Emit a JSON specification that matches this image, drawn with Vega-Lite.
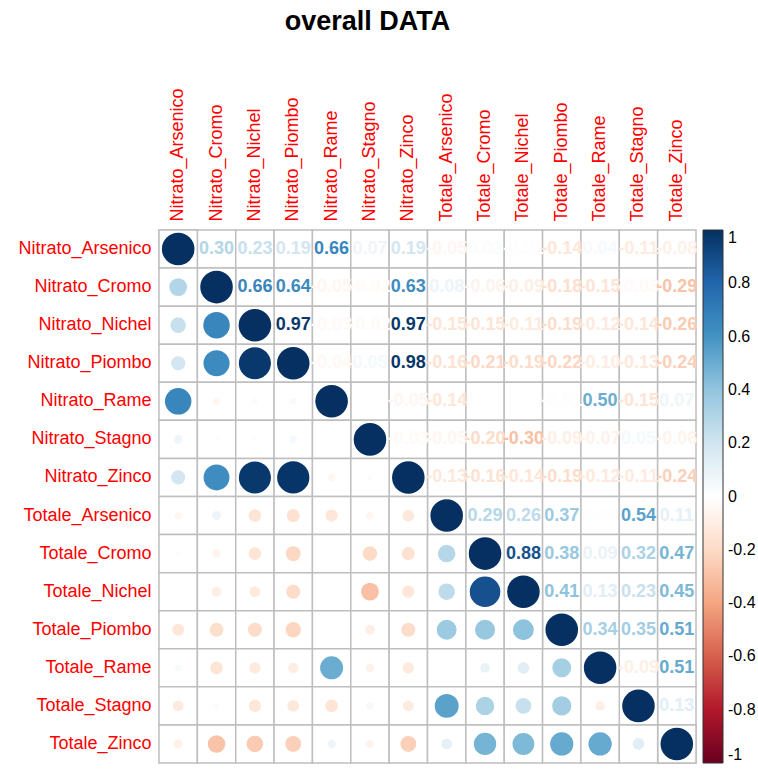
{
  "$schema": "https://vega.github.io/schema/vega-lite/v6.json",
  "width": 537,
  "height": 533,
  "autosize": "none",
  "padding": {"left": 159, "top": 230, "right": 62, "bottom": 9},
  "title": {"text": "overall DATA", "font": "Liberation Sans", "fontSize": 27, "fontWeight": "bold", "color": "#000000", "anchor": "middle", "frame": "group", "dx": -60, "offset": 52},
  "config": {
    "locale": {"number": {"decimal": ".", "thousands": ",", "grouping": [3], "currency": ["$", ""], "minus": "-"}},
    "view": {"stroke": null},
    "font": "Liberation Sans"
  },
  "data": {"values": [
    {"a": "Nitrato_Arsenico", "b": "Nitrato_Arsenico", "r": 1},
    {"a": "Nitrato_Cromo", "b": "Nitrato_Cromo", "r": 1},
    {"a": "Nitrato_Nichel", "b": "Nitrato_Nichel", "r": 1},
    {"a": "Nitrato_Piombo", "b": "Nitrato_Piombo", "r": 1},
    {"a": "Nitrato_Rame", "b": "Nitrato_Rame", "r": 1},
    {"a": "Nitrato_Stagno", "b": "Nitrato_Stagno", "r": 1},
    {"a": "Nitrato_Zinco", "b": "Nitrato_Zinco", "r": 1},
    {"a": "Totale_Arsenico", "b": "Totale_Arsenico", "r": 1},
    {"a": "Totale_Cromo", "b": "Totale_Cromo", "r": 1},
    {"a": "Totale_Nichel", "b": "Totale_Nichel", "r": 1},
    {"a": "Totale_Piombo", "b": "Totale_Piombo", "r": 1},
    {"a": "Totale_Rame", "b": "Totale_Rame", "r": 1},
    {"a": "Totale_Stagno", "b": "Totale_Stagno", "r": 1},
    {"a": "Totale_Zinco", "b": "Totale_Zinco", "r": 1},

    {"a": "Nitrato_Arsenico", "b": "Nitrato_Cromo", "r": 0.30},
    {"a": "Nitrato_Arsenico", "b": "Nitrato_Nichel", "r": 0.23},
    {"a": "Nitrato_Arsenico", "b": "Nitrato_Piombo", "r": 0.19},
    {"a": "Nitrato_Arsenico", "b": "Nitrato_Rame", "r": 0.66},
    {"a": "Nitrato_Arsenico", "b": "Nitrato_Stagno", "r": 0.07},
    {"a": "Nitrato_Arsenico", "b": "Nitrato_Zinco", "r": 0.19},
    {"a": "Nitrato_Arsenico", "b": "Totale_Arsenico", "r": -0.05},
    {"a": "Nitrato_Arsenico", "b": "Totale_Cromo", "r": 0.02},
    {"a": "Nitrato_Arsenico", "b": "Totale_Nichel", "r": -0.01},
    {"a": "Nitrato_Arsenico", "b": "Totale_Piombo", "r": -0.14},
    {"a": "Nitrato_Arsenico", "b": "Totale_Rame", "r": 0.04},
    {"a": "Nitrato_Arsenico", "b": "Totale_Stagno", "r": -0.11},
    {"a": "Nitrato_Arsenico", "b": "Totale_Zinco", "r": -0.08},

    {"a": "Nitrato_Cromo", "b": "Nitrato_Nichel", "r": 0.66},
    {"a": "Nitrato_Cromo", "b": "Nitrato_Piombo", "r": 0.64},
    {"a": "Nitrato_Cromo", "b": "Nitrato_Rame", "r": -0.05},
    {"a": "Nitrato_Cromo", "b": "Nitrato_Stagno", "r": -0.02},
    {"a": "Nitrato_Cromo", "b": "Nitrato_Zinco", "r": 0.63},
    {"a": "Nitrato_Cromo", "b": "Totale_Arsenico", "r": 0.08},
    {"a": "Nitrato_Cromo", "b": "Totale_Cromo", "r": -0.06},
    {"a": "Nitrato_Cromo", "b": "Totale_Nichel", "r": -0.09},
    {"a": "Nitrato_Cromo", "b": "Totale_Piombo", "r": -0.18},
    {"a": "Nitrato_Cromo", "b": "Totale_Rame", "r": -0.15},
    {"a": "Nitrato_Cromo", "b": "Totale_Stagno", "r": -0.03},
    {"a": "Nitrato_Cromo", "b": "Totale_Zinco", "r": -0.29},

    {"a": "Nitrato_Nichel", "b": "Nitrato_Piombo", "r": 0.97},
    {"a": "Nitrato_Nichel", "b": "Nitrato_Rame", "r": -0.03},
    {"a": "Nitrato_Nichel", "b": "Nitrato_Stagno", "r": -0.02},
    {"a": "Nitrato_Nichel", "b": "Nitrato_Zinco", "r": 0.97},
    {"a": "Nitrato_Nichel", "b": "Totale_Arsenico", "r": -0.15},
    {"a": "Nitrato_Nichel", "b": "Totale_Cromo", "r": -0.15},
    {"a": "Nitrato_Nichel", "b": "Totale_Nichel", "r": -0.11},
    {"a": "Nitrato_Nichel", "b": "Totale_Piombo", "r": -0.19},
    {"a": "Nitrato_Nichel", "b": "Totale_Rame", "r": -0.12},
    {"a": "Nitrato_Nichel", "b": "Totale_Stagno", "r": -0.14},
    {"a": "Nitrato_Nichel", "b": "Totale_Zinco", "r": -0.26},

    {"a": "Nitrato_Piombo", "b": "Nitrato_Rame", "r": -0.04},
    {"a": "Nitrato_Piombo", "b": "Nitrato_Stagno", "r": 0.05},
    {"a": "Nitrato_Piombo", "b": "Nitrato_Zinco", "r": 0.98},
    {"a": "Nitrato_Piombo", "b": "Totale_Arsenico", "r": -0.16},
    {"a": "Nitrato_Piombo", "b": "Totale_Cromo", "r": -0.21},
    {"a": "Nitrato_Piombo", "b": "Totale_Nichel", "r": -0.19},
    {"a": "Nitrato_Piombo", "b": "Totale_Piombo", "r": -0.22},
    {"a": "Nitrato_Piombo", "b": "Totale_Rame", "r": -0.10},
    {"a": "Nitrato_Piombo", "b": "Totale_Stagno", "r": -0.13},
    {"a": "Nitrato_Piombo", "b": "Totale_Zinco", "r": -0.24},

    {"a": "Nitrato_Rame", "b": "Nitrato_Stagno", "r": 0.00},
    {"a": "Nitrato_Rame", "b": "Nitrato_Zinco", "r": -0.05},
    {"a": "Nitrato_Rame", "b": "Totale_Arsenico", "r": -0.14},
    {"a": "Nitrato_Rame", "b": "Totale_Cromo", "r": 0.00},
    {"a": "Nitrato_Rame", "b": "Totale_Nichel", "r": 0.00},
    {"a": "Nitrato_Rame", "b": "Totale_Piombo", "r": -0.01},
    {"a": "Nitrato_Rame", "b": "Totale_Rame", "r": 0.50},
    {"a": "Nitrato_Rame", "b": "Totale_Stagno", "r": -0.15},
    {"a": "Nitrato_Rame", "b": "Totale_Zinco", "r": 0.07},

    {"a": "Nitrato_Stagno", "b": "Nitrato_Zinco", "r": -0.03},
    {"a": "Nitrato_Stagno", "b": "Totale_Arsenico", "r": -0.05},
    {"a": "Nitrato_Stagno", "b": "Totale_Cromo", "r": -0.20},
    {"a": "Nitrato_Stagno", "b": "Totale_Nichel", "r": -0.30},
    {"a": "Nitrato_Stagno", "b": "Totale_Piombo", "r": -0.09},
    {"a": "Nitrato_Stagno", "b": "Totale_Rame", "r": -0.07},
    {"a": "Nitrato_Stagno", "b": "Totale_Stagno", "r": 0.05},
    {"a": "Nitrato_Stagno", "b": "Totale_Zinco", "r": -0.06},

    {"a": "Nitrato_Zinco", "b": "Totale_Arsenico", "r": -0.13},
    {"a": "Nitrato_Zinco", "b": "Totale_Cromo", "r": -0.16},
    {"a": "Nitrato_Zinco", "b": "Totale_Nichel", "r": -0.14},
    {"a": "Nitrato_Zinco", "b": "Totale_Piombo", "r": -0.19},
    {"a": "Nitrato_Zinco", "b": "Totale_Rame", "r": -0.12},
    {"a": "Nitrato_Zinco", "b": "Totale_Stagno", "r": -0.11},
    {"a": "Nitrato_Zinco", "b": "Totale_Zinco", "r": -0.24},

    {"a": "Totale_Arsenico", "b": "Totale_Cromo", "r": 0.29},
    {"a": "Totale_Arsenico", "b": "Totale_Nichel", "r": 0.26},
    {"a": "Totale_Arsenico", "b": "Totale_Piombo", "r": 0.37},
    {"a": "Totale_Arsenico", "b": "Totale_Rame", "r": 0.01},
    {"a": "Totale_Arsenico", "b": "Totale_Stagno", "r": 0.54},
    {"a": "Totale_Arsenico", "b": "Totale_Zinco", "r": 0.11},

    {"a": "Totale_Cromo", "b": "Totale_Nichel", "r": 0.88},
    {"a": "Totale_Cromo", "b": "Totale_Piombo", "r": 0.38},
    {"a": "Totale_Cromo", "b": "Totale_Rame", "r": 0.09},
    {"a": "Totale_Cromo", "b": "Totale_Stagno", "r": 0.32},
    {"a": "Totale_Cromo", "b": "Totale_Zinco", "r": 0.47},

    {"a": "Totale_Nichel", "b": "Totale_Piombo", "r": 0.41},
    {"a": "Totale_Nichel", "b": "Totale_Rame", "r": 0.13},
    {"a": "Totale_Nichel", "b": "Totale_Stagno", "r": 0.23},
    {"a": "Totale_Nichel", "b": "Totale_Zinco", "r": 0.45},

    {"a": "Totale_Piombo", "b": "Totale_Rame", "r": 0.34},
    {"a": "Totale_Piombo", "b": "Totale_Stagno", "r": 0.35},
    {"a": "Totale_Piombo", "b": "Totale_Zinco", "r": 0.51},

    {"a": "Totale_Rame", "b": "Totale_Stagno", "r": -0.09},
    {"a": "Totale_Rame", "b": "Totale_Zinco", "r": 0.51},

    {"a": "Totale_Stagno", "b": "Totale_Zinco", "r": 0.13}
  ]},
  "layer": [
    {
      "mark": {"type": "rect", "fill": "#ffffff", "stroke": "#bebebe", "strokeWidth": 1.5},
      "encoding": {
        "x": {"field": "b", "type": "nominal", "title": null},
        "y": {"field": "a", "type": "nominal", "title": null}
      }
    },
    {
      "mark": {"type": "rect", "fill": "#ffffff", "stroke": "#bebebe", "strokeWidth": 1.5},
      "encoding": {
        "x": {"field": "a", "type": "nominal", "title": null},
        "y": {"field": "b", "type": "nominal", "title": null}
      }
    },
    {
      "mark": {"type": "point", "shape": "circle", "filled": true, "opacity": 1, "strokeWidth": 0},
      "encoding": {
        "x": {"field": "a", "type": "nominal", "title": null},
        "y": {"field": "b", "type": "nominal", "title": null},
        "size": {"field": "r", "type": "quantitative", "legend": null,
                 "scale": {"type": "linear", "domain": [-1, 0, 1], "range": [1060, 0, 1060]}},
        "color": {"field": "r", "type": "quantitative"}
      }
    },
    {
      "transform": [{"filter": "datum.a != datum.b"}],
      "mark": {"type": "text", "font": "Liberation Sans", "fontSize": 18, "fontWeight": "bold"},
      "encoding": {
        "x": {"field": "b", "type": "nominal", "title": null},
        "y": {"field": "a", "type": "nominal", "title": null},
        "text": {"field": "r", "type": "quantitative", "format": ".2f"},
        "color": {"field": "r", "type": "quantitative"}
      }
    }
  ],
  "encoding": {
    "x": {
      "field": "b", "type": "nominal", "title": null,
      "scale": {"domain": ["Nitrato_Arsenico", "Nitrato_Cromo", "Nitrato_Nichel", "Nitrato_Piombo", "Nitrato_Rame", "Nitrato_Stagno", "Nitrato_Zinco", "Totale_Arsenico", "Totale_Cromo", "Totale_Nichel", "Totale_Piombo", "Totale_Rame", "Totale_Stagno", "Totale_Zinco"], "paddingInner": 0, "paddingOuter": 0},
      "axis": {"orient": "top", "labelAngle": -90, "labelColor": "#ff0000", "labelFont": "Liberation Sans", "labelFontSize": 18, "labelPadding": 9, "ticks": false, "domain": false, "grid": false, "labelAlign": "left", "labelBaseline": "middle"}
    },
    "y": {
      "field": "a", "type": "nominal", "title": null,
      "scale": {"domain": ["Nitrato_Arsenico", "Nitrato_Cromo", "Nitrato_Nichel", "Nitrato_Piombo", "Nitrato_Rame", "Nitrato_Stagno", "Nitrato_Zinco", "Totale_Arsenico", "Totale_Cromo", "Totale_Nichel", "Totale_Piombo", "Totale_Rame", "Totale_Stagno", "Totale_Zinco"], "paddingInner": 0, "paddingOuter": 0},
      "axis": {"labelColor": "#ff0000", "labelFont": "Liberation Sans", "labelFontSize": 18, "labelPadding": 8, "ticks": false, "domain": false, "grid": false}
    },
    "color": {
      "field": "r", "type": "quantitative",
      "scale": {"type": "linear", "interpolate": "rgb",
                "domain": [-1, -0.8, -0.6, -0.4, -0.2, 0, 0.2, 0.4, 0.6, 0.8, 1],
                "range": ["#67001F", "#B2182B", "#D6604D", "#F4A582", "#FDDBC7", "#FFFFFF", "#D1E5F0", "#92C5DE", "#4393C3", "#2166AC", "#053061"]},
      "legend": {"orient": "none", "legendX": 544, "legendY": 0, "title": null, "direction": "vertical",
                 "gradientLength": 533, "gradientThickness": 20, "gradientStrokeColor": "#333333", "gradientStrokeWidth": 1,
                 "values": [-1, -0.8, -0.6, -0.4, -0.2, 0, 0.2, 0.4, 0.6, 0.8, 1], "format": "~g",
                 "labelFont": "Liberation Sans", "labelFontSize": 16, "labelColor": "#000000", "labelOverlap": false,
                 "labelAlign": "left", "labelBaseline": "middle", "labelOffset": 5, "labelLimit": 0}
    }
  }
}
